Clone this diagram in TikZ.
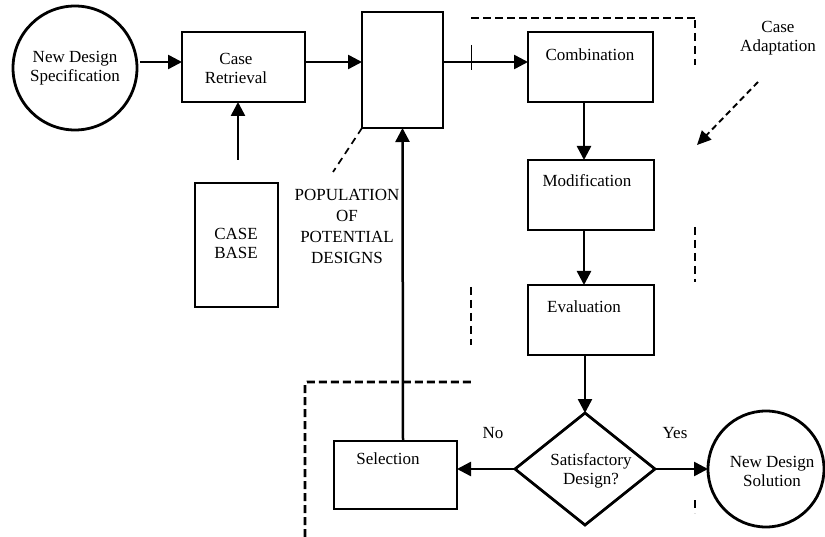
\documentclass[tikz,border=0pt]{standalone}
\usepackage{fontspec}
\setmainfont{Liberation Serif}
\usetikzlibrary{arrows.meta,shapes.geometric}
\begin{document}
\begin{tikzpicture}[x=1pt,y=-1pt,
  box/.style={draw,line width=2.8pt,inner sep=0pt,outer sep=0pt},
  arr/.style={line width=2.5pt,-{Triangle[length=14pt,width=14pt]}},
  txt/.style={font=\fontsize{17}{19}\selectfont,align=center,inner sep=0pt},
  ptxt/.style={font=\fontsize{17}{21}\selectfont,align=center,inner sep=0pt},
  bnd/.style={line width=2.6pt,dash pattern=on 8pt off 4pt},
  bndthin/.style={line width=1.3pt,dash pattern=on 8pt off 5pt}]
\useasboundingbox (0,0) rectangle (825,537);
% nodes
\node[box,circle,minimum size=124pt] (spec) at (75,68) {};
\node[txt] (spect) at (75,68) {New Design\\Specification};
\node[box,minimum width=123pt,minimum height=70pt] (ret) at (243.5,67) {};
\node[txt] (rett) at (236,68) {Case\\Retrieval};
\node[box,minimum width=83pt,minimum height=124pt] (cb) at (236.5,245) {};
\node[txt] (cbt) at (236,243) {CASE\\BASE};
\node[box,minimum width=81pt,minimum height=116pt] (pop) at (402.5,70) {};
\node[ptxt] (popt) at (347,226) {POPULATION\\OF\\POTENTIAL\\DESIGNS};
\node[box,minimum width=125pt,minimum height=70pt] (comb) at (590.5,67) {};
\node[txt] (combt) at (590,55) {Combination};
\node[box,minimum width=126pt,minimum height=70pt] (mod) at (591,195) {};
\node[txt] (modt) at (587,181) {Modification};
\node[box,minimum width=126pt,minimum height=70pt] (eval) at (591,320) {};
\node[txt] (evalt) at (584,307) {Evaluation};
\node[box,diamond,minimum width=140pt,minimum height=112pt] (dia) at (585,469) {};
\node[txt] (diat) at (591,471) {Satisfactory\\Design?};
\node[box,circle,minimum size=116pt] (sol) at (766,469) {};
\node[txt] (solt) at (772,471) {New Design\\Solution};
\node[box,minimum width=123pt,minimum height=68pt] (sel) at (395.5,475) {};
\node[txt] (selt) at (388,459) {Selection};
\node[txt] (no) at (493,433) {No};
\node[txt] (yes) at (675,433) {Yes};
\node[txt] (adapt) at (778,38) {Case\\Adaptation};
% connectors
\draw[arr] ([xshift=3pt,yshift=6pt]spec.east) -- ([yshift=5pt]ret.west);
\draw[arr] ([yshift=5pt]ret.east) -- ([yshift=8pt]pop.west);
\draw[arr] ([yshift=8pt]pop.east) -- ([yshift=5pt]comb.west);
\coordinate (cbtop) at (238,160);
\draw[arr] (cbtop) -- (cbtop |- ret.south);
\draw[arr] ([xshift=-6.5pt]comb.south) -- ([xshift=-7pt]mod.north);
\draw[arr] ([xshift=-7pt]mod.south) -- ([xshift=-7pt]eval.north);
\draw[arr] ([xshift=-6pt]eval.south) -- (dia.north);
\draw[arr] (dia.east) -- (sol.west);
\draw[arr] (dia.west) -- ([yshift=6pt]sel.east);
\draw[arr] ([xshift=7.5pt]sel.north) -- (pop.south);
% annotation pointers
\coordinate (popl) at (333,172);
\draw[line width=1.7pt,dash pattern=on 7pt off 5pt] (pop.south west) -- (popl);
\coordinate (ad1) at (758,82);
\coordinate (ad2) at (697,145);
\draw[line width=1.9pt,dash pattern=on 6pt off 4pt,-{Triangle[length=14pt,width=13pt]}] (ad1) -- (ad2);
% dashed boundary fragments
\draw[bnd] (471,18) -- (695,18);
\draw[bndthin] (695,20) -- (695,65);
\draw[line width=1pt] (471,45) -- (471,70);
\draw[bndthin] (695,227) -- (695,282);
\draw[bndthin] (695,500) -- (695,513);
\draw[bndthin] (471,287) -- (471,345);
\draw[bnd,rounded corners=2pt] (305,537) -- (305,382) -- (472,382);
\end{tikzpicture}
\end{document}
